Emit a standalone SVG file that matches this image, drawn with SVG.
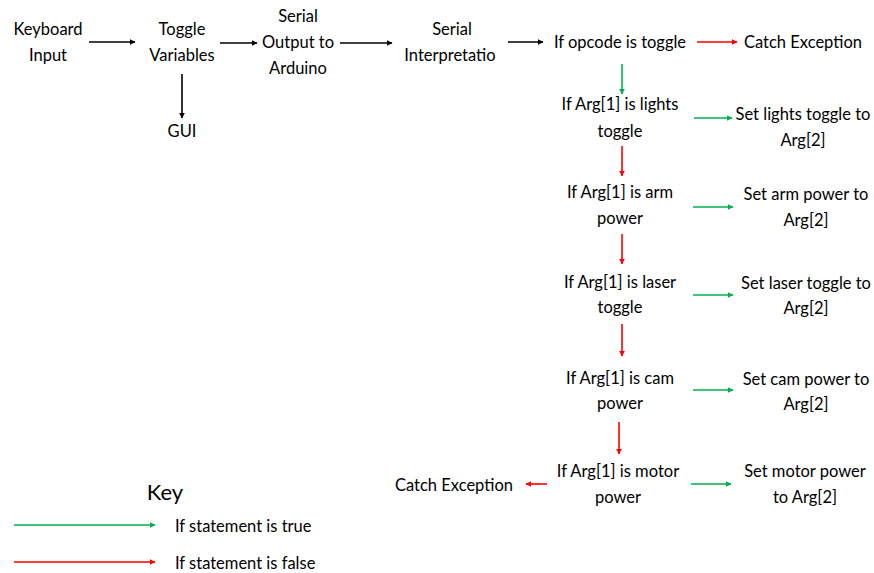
<svg xmlns="http://www.w3.org/2000/svg" width="874" height="573" viewBox="0 0 874 573">
<defs>
<marker id="ak" viewBox="0 0 10 10" refX="9" refY="5" markerWidth="6" markerHeight="6" markerUnits="userSpaceOnUse" orient="auto"><path d="M0,0 L10,5 L0,10 z" fill="#000"/></marker>
<marker id="ag" viewBox="0 0 10 10" refX="9" refY="5" markerWidth="6" markerHeight="6" markerUnits="userSpaceOnUse" orient="auto"><path d="M0,0 L10,5 L0,10 z" fill="#00B050"/></marker>
<marker id="ar" viewBox="0 0 10 10" refX="9" refY="5" markerWidth="6" markerHeight="6" markerUnits="userSpaceOnUse" orient="auto"><path d="M0,0 L10,5 L0,10 z" fill="#FF0000"/></marker>
</defs>
<style>
text{font-family:Lato,"Liberation Sans",sans-serif;font-size:16.5px;fill:#000;text-anchor:middle}
.l{text-anchor:start}
.k{stroke:#000;stroke-width:1.6;marker-end:url(#ak)}
.g{stroke:#00B050;stroke-width:1.6;marker-end:url(#ag)}
.r{stroke:#FF0000;stroke-width:1.6;marker-end:url(#ar)}
</style>
<g id="connectors">
<line class="k" x1="89" y1="42" x2="135" y2="42"/>
<line class="k" x1="182" y1="74" x2="182" y2="118"/>
<line class="k" x1="220" y1="43" x2="257" y2="43"/>
<line class="k" x1="340" y1="43" x2="392" y2="43"/>
<line class="k" x1="508" y1="42" x2="543" y2="42"/>
<line class="r" x1="697" y1="42" x2="737" y2="42"/>
<line class="g" x1="622" y1="64" x2="622" y2="94"/>
<line class="g" x1="694" y1="118" x2="732" y2="118"/>
<line class="r" x1="622" y1="146" x2="622" y2="176"/>
<line class="g" x1="693" y1="207" x2="733" y2="207"/>
<line class="r" x1="622" y1="234" x2="622" y2="264"/>
<line class="g" x1="693" y1="295" x2="733" y2="295"/>
<line class="r" x1="622" y1="324" x2="622" y2="356"/>
<line class="g" x1="693" y1="390" x2="733" y2="390"/>
<line class="r" x1="619" y1="422" x2="619" y2="454"/>
<line class="r" x1="547" y1="484" x2="526" y2="484"/>
<line class="g" x1="691" y1="484" x2="731" y2="484"/>
<line class="g" x1="14" y1="525" x2="155" y2="525"/>
<line class="r" x1="14" y1="562" x2="155" y2="562"/>
</g>
<g id="keyboard"><text x="48" y="35">Keyboard</text><text x="48" y="61">Input</text></g>
<g id="toggle"><text x="182" y="35">Toggle</text><text x="182" y="61">Variables</text></g>
<g id="gui"><text x="182" y="137">GUI</text></g>
<g id="serialout"><text x="298" y="22">Serial</text><text x="298" y="48">Output to</text><text x="298" y="74">Arduino</text></g>
<g id="serialinterp"><text x="452" y="35">Serial</text><text x="450" y="61">Interpretatio</text></g>
<g id="opcode"><text x="620" y="48">If opcode is toggle</text></g>
<g id="catch1"><text x="803" y="48">Catch Exception</text></g>
<g id="lights"><text x="620" y="110">If Arg[1] is lights</text><text x="620" y="137">toggle</text></g>
<g id="setlights"><text x="803" y="120">Set lights toggle to</text><text x="803" y="146">Arg[2]</text></g>
<g id="arm"><text x="620" y="198">If Arg[1] is arm</text><text x="620" y="224">power</text></g>
<g id="setarm"><text x="806" y="200">Set arm power to</text><text x="806" y="226">Arg[2]</text></g>
<g id="laser"><text x="620" y="288">If Arg[1] is laser</text><text x="620" y="313">toggle</text></g>
<g id="setlaser"><text x="806" y="289">Set laser toggle to</text><text x="806" y="314">Arg[2]</text></g>
<g id="cam"><text x="620" y="384">If Arg[1] is cam</text><text x="620" y="409">power</text></g>
<g id="setcam"><text x="806" y="385">Set cam power to</text><text x="806" y="410">Arg[2]</text></g>
<g id="motor"><text x="618" y="477">If Arg[1] is motor</text><text x="618" y="503">power</text></g>
<g id="catch2"><text x="454" y="491">Catch Exception</text></g>
<g id="setmotor"><text x="805" y="477">Set motor power</text><text x="805" y="503">to Arg[2]</text></g>
<g id="key"><text x="165" y="500" style="font-size:22px">Key</text>
<text class="l" x="175" y="532">If statement is true</text>
<text class="l" x="175" y="569">If statement is false</text></g>
</svg>
